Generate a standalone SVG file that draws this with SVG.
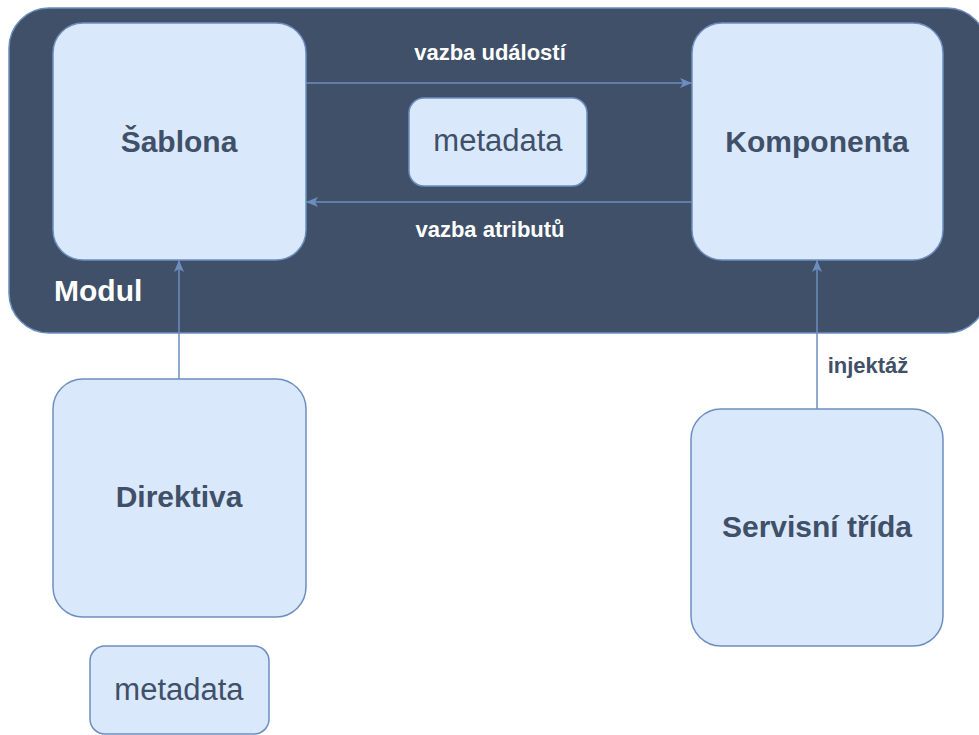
<svg xmlns="http://www.w3.org/2000/svg" width="979" height="735" viewBox="0 0 979 735">
  <style>
    .node { fill: #dae8fc; stroke: #6c8ebf; stroke-width: 1.5; }
    .title { font-family: "Liberation Sans", Arial, Helvetica, sans-serif; font-weight: bold; font-size: 30px; fill: #3f5068; text-anchor: middle; }
    .meta { font-family: "Liberation Sans", Arial, Helvetica, sans-serif; font-size: 31px; fill: #3f5068; text-anchor: middle; }
    .edge { fill: none; stroke: #6c8ebf; stroke-width: 1.5; }
    .lbl { font-family: "Liberation Sans", Arial, Helvetica, sans-serif; font-weight: bold; font-size: 22px; text-anchor: middle; }
  </style>
  <defs>
    <marker id="arrow" viewBox="0 0 12 10" refX="12" refY="5" markerWidth="12" markerHeight="10" markerUnits="userSpaceOnUse" orient="auto">
      <path d="M0,0 L12,5 L0,10 L3,5 Z" fill="#6c8ebf"/>
    </marker>
  </defs>

  <rect width="979" height="735" fill="#ffffff"/>

  <!-- module container -->
  <g id="modul">
    <rect x="9" y="8" width="978" height="325" rx="40" fill="#3f5068" stroke="#6c8ebf" stroke-width="1.5"/>
    <text x="54" y="301" class="title" style="fill:#ffffff;text-anchor:start">Modul</text>
  </g>

  <g id="sablona">
    <rect class="node" x="53" y="23" width="253" height="237" rx="30"/>
    <text x="179" y="152" class="title">Šablona</text>
  </g>

  <g id="komponenta">
    <rect class="node" x="692" y="23" width="251" height="237" rx="30"/>
    <text x="817" y="152" class="title">Komponenta</text>
  </g>

  <g id="metadata-modul">
    <rect class="node" x="409" y="98" width="178" height="88" rx="15"/>
    <text x="498" y="151" class="meta">metadata</text>
  </g>

  <g id="direktiva">
    <rect class="node" x="53" y="379" width="253" height="238" rx="30"/>
    <text x="179" y="507" class="title">Direktiva</text>
  </g>

  <g id="metadata-direktiva">
    <rect class="node" x="90" y="646" width="179" height="88" rx="15"/>
    <text x="179" y="700" class="meta">metadata</text>
  </g>

  <g id="servisni-trida">
    <rect class="node" x="691" y="409" width="252" height="237" rx="30"/>
    <text x="817" y="537" class="title">Servisní třída</text>
  </g>

  <!-- connectors -->
  <g id="connectors">
    <path class="edge" d="M306,83 L692,83" marker-end="url(#arrow)"/>
    <path class="edge" d="M692,202 L306,202" marker-end="url(#arrow)"/>
    <path class="edge" d="M179,379 L179,260" marker-end="url(#arrow)"/>
    <path class="edge" d="M817,409 L817,260" marker-end="url(#arrow)"/>
    <text x="490" y="60" class="lbl" fill="#ffffff">vazba událostí</text>
    <text x="490" y="237" class="lbl" fill="#ffffff">vazba atributů</text>
    <text x="868" y="373" class="lbl" fill="#3f5068">injektáž</text>
  </g>
</svg>
